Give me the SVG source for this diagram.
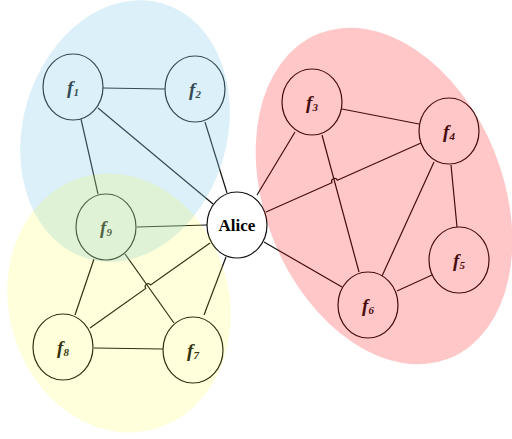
<svg xmlns="http://www.w3.org/2000/svg" width="512" height="439" viewBox="0 0 512 439">
<style>
.edge{stroke:#111;stroke-width:1.2;fill:none}
.node{fill:#fff;stroke:#111;stroke-width:1.2}
.lbl{font-family:"Liberation Serif","Times New Roman",serif;font-weight:bold;font-style:italic;font-size:19px;fill:#111;text-anchor:middle}
.sub{font-size:11px}
.alice{font-family:"Liberation Serif","Times New Roman",serif;font-weight:bold;font-size:17px;fill:#000;text-anchor:middle}
</style>
<rect width="512" height="439" fill="#fff"/>
<g id="connectors">
<line class="edge" x1="103" y1="88" x2="165" y2="89"/>
<line class="edge" x1="81" y1="119" x2="98" y2="194"/>
<line class="edge" x1="98" y1="108" x2="213" y2="204"/>
<line class="edge" x1="205" y1="122" x2="227" y2="193"/>
<line class="edge" x1="137" y1="227" x2="207" y2="225"/>
<line class="edge" x1="94" y1="259" x2="75" y2="315"/>
<line class="edge" x1="125" y1="254" x2="174" y2="323"/>
<line class="edge" x1="94" y1="348" x2="163" y2="349"/>
<path class="edge" d="M90 328 L145.75 288.43 A3 3 0 0 1 150.65 284.97 L210 243"/>
<line class="edge" x1="204" y1="315" x2="226" y2="257"/>
<line class="edge" x1="257" y1="195" x2="295" y2="132"/>
<path class="edge" d="M266 212 L331.86 182.72 A3 3 0 0 1 337.34 180.28 L421 143"/>
<line class="edge" x1="264" y1="242" x2="342" y2="287"/>
<line class="edge" x1="342" y1="109" x2="419" y2="124"/>
<line class="edge" x1="322" y1="135" x2="359" y2="272"/>
<line class="edge" x1="434" y1="162" x2="382" y2="276"/>
<line class="edge" x1="451" y1="165" x2="457" y2="227"/>
<line class="edge" x1="432" y1="275" x2="397" y2="291"/>
</g>
<g id="f1"><ellipse class="node" cx="73" cy="87" rx="30" ry="33"/><text class="lbl" x="73" y="94">f<tspan class="sub" dy="2">1</tspan></text></g>
<g id="f2"><ellipse class="node" cx="195" cy="89" rx="30" ry="33"/><text class="lbl" x="195" y="96">f<tspan class="sub" dy="2">2</tspan></text></g>
<g id="f3"><ellipse class="node" cx="312" cy="102" rx="30" ry="33"/><text class="lbl" x="312" y="109">f<tspan class="sub" dy="2">3</tspan></text></g>
<g id="f4"><ellipse class="node" cx="449" cy="131" rx="30" ry="33"/><text class="lbl" x="449" y="138">f<tspan class="sub" dy="2">4</tspan></text></g>
<g id="f5"><ellipse class="node" cx="459" cy="260" rx="30" ry="33"/><text class="lbl" x="459" y="267">f<tspan class="sub" dy="2">5</tspan></text></g>
<g id="f6"><ellipse class="node" cx="368" cy="305" rx="30" ry="33"/><text class="lbl" x="368" y="312">f<tspan class="sub" dy="2">6</tspan></text></g>
<g id="f7"><ellipse class="node" cx="193" cy="350" rx="30" ry="33"/><text class="lbl" x="193" y="357">f<tspan class="sub" dy="2">7</tspan></text></g>
<g id="f8"><ellipse class="node" cx="63" cy="347" rx="30" ry="33"/><text class="lbl" x="63" y="354">f<tspan class="sub" dy="2">8</tspan></text></g>
<g id="f9"><ellipse class="node" cx="106" cy="227" rx="30" ry="33"/><text class="lbl" x="106" y="234">f<tspan class="sub" dy="2">9</tspan></text></g>
<g id="alice"><ellipse class="node" cx="237" cy="225" rx="30" ry="33"/><text class="alice" x="237" y="231">Alice</text></g>
<g id="groups">
<ellipse cx="125" cy="131" rx="102" ry="133" transform="rotate(16.5 125 131)" fill="#87ceeb" fill-opacity="0.3"/>
<ellipse cx="119" cy="303" rx="110" ry="131" transform="rotate(-16 119 303)" fill="#ffff00" fill-opacity="0.14"/>
<ellipse cx="384" cy="196" rx="119" ry="175" transform="rotate(-22 384 196)" fill="#ff0000" fill-opacity="0.22"/>
</g>
</svg>
